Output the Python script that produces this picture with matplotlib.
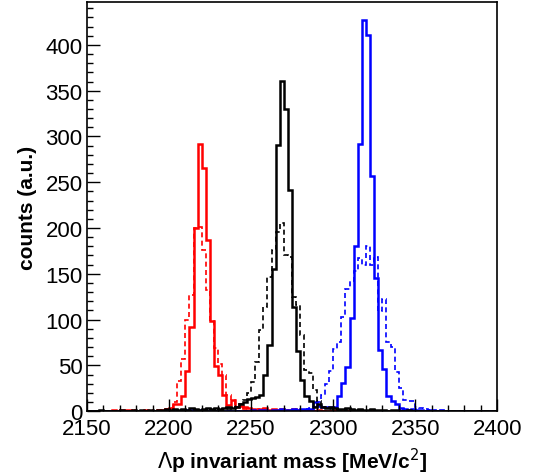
import numpy as np
import matplotlib
matplotlib.use("Agg")
import matplotlib.pyplot as plt
from matplotlib.ticker import MultipleLocator

plt.rcParams['font.family'] = ['Liberation Sans', 'DejaVu Sans']

# bin edges: 2150 -> 2400 MeV, 2.5 MeV bins
edges = np.linspace(2150, 2400, 101)

# red histograms
red_solid = [
    0, 0, 0, 0, 0, 0, 1, 0, 1, 1,
    1, 0, 0, 0, 1, 0, 0, 1, 1, 2,
    3, 8, 8, 17, 44, 92, 200, 292, 266, 187,
    98, 49, 40, 18, 7, 12, 4, 6, 5, 3,
    2, 1, 2, 3, 1, 2, 1, 2, 1, 1,
    2, 1, 1, 0, 1, 0, 1, 0, 0, 0,
    1, 0, 0, 0, 0, 0, 0, 0, 0, 0,
    0, 0, 0, 0, 0, 0, 0, 0, 0, 0,
    0, 0, 0, 0, 0, 0, 0, 0, 0, 0,
    0, 0, 0, 0, 0, 0, 0, 0, 0, 0,
]
red_dashed = [
    0, 0, 0, 0, 0, 0, 0, 1, 0, 0,
    0, 1, 0, 0, 0, 0, 1, 1, 2, 2,
    3, 10, 33, 57, 100, 127, 200, 201, 176, 132,
    98, 69, 52, 40, 18, 12, 8, 4, 2, 2,
    1, 2, 1, 1, 0, 1, 0, 1, 0, 0,
    0, 1, 0, 0, 1, 0, 0, 0, 0, 0,
    0, 0, 0, 0, 0, 0, 0, 0, 0, 0,
    0, 0, 0, 0, 0, 0, 0, 0, 0, 0,
    0, 0, 0, 0, 0, 0, 0, 0, 0, 0,
    0, 0, 0, 0, 0, 0, 0, 0, 0, 0,
]

# black histograms
black_solid = [
    0, 0, 0, 1, 0, 0, 0, 0, 1, 0,
    0, 1, 0, 1, 0, 1, 0, 1, 1, 2,
    1, 2, 1, 2, 1, 3, 2, 1, 2, 3,
    2, 3, 2, 3, 4, 3, 5, 8, 10, 13,
    14, 15, 18, 40, 72, 155, 291, 361, 330, 242,
    114, 66, 34, 16, 11, 5, 8, 4, 3, 5,
    3, 2, 2, 3, 2, 1, 2, 1, 1, 2,
    1, 1, 1, 0, 1, 1, 0, 0, 1, 0,
    0, 0, 0, 0, 0, 0, 0, 0, 0, 0,
    0, 0, 0, 0, 0, 0, 0, 0, 0, 0,
]
black_dashed = [
    0, 0, 0, 0, 0, 0, 0, 0, 0, 0,
    0, 0, 0, 0, 0, 0, 0, 0, 0, 0,
    0, 0, 0, 0, 0, 0, 0, 0, 0, 0,
    0, 0, 1, 1, 2, 3, 5, 8, 12, 20,
    32, 54, 89, 114, 147, 176, 196, 205, 171, 168,
    125, 116, 83, 45, 42, 23, 11, 5, 3, 2,
    1, 1, 0, 1, 0, 0, 0, 0, 0, 0,
    0, 0, 0, 0, 0, 0, 0, 0, 0, 0,
    0, 0, 0, 0, 0, 0, 0, 0, 0, 0,
    0, 0, 0, 0, 0, 0, 0, 0, 0, 0,
]

# blue histograms
blue_solid = [
    0, 0, 0, 0, 0, 0, 0, 0, 0, 0,
    0, 0, 0, 0, 0, 0, 0, 0, 0, 0,
    0, 0, 0, 1, 0, 1, 0, 1, 0, 0,
    0, 0, 0, 0, 0, 0, 0, 0, 0, 0,
    1, 0, 1, 1, 0, 1, 1, 2, 1, 1,
    2, 1, 2, 2, 2, 10, 6, 4, 4, 5,
    5, 16, 31, 48, 102, 180, 292, 427, 411, 257,
    145, 67, 46, 17, 11, 8, 3, 2, 1, 2,
    1, 1, 0, 1, 0, 0, 0, 0, 0, 0,
    0, 0, 0, 0, 0, 0, 0, 0, 0, 0,
]
blue_dashed = [
    0, 0, 0, 0, 0, 0, 0, 0, 0, 0,
    0, 0, 0, 0, 0, 0, 0, 0, 0, 0,
    0, 0, 0, 0, 1, 0, 0, 0, 0, 0,
    0, 0, 0, 0, 0, 0, 0, 0, 0, 0,
    0, 0, 0, 0, 0, 0, 0, 0, 0, 1,
    1, 2, 1, 2, 3, 5, 10, 18, 30, 44,
    68, 76, 103, 133, 142, 153, 167, 160, 180, 160,
    168, 109, 123, 76, 70, 43, 25, 12, 11, 11,
    4, 3, 2, 1, 1, 0, 1, 0, 0, 0,
    0, 0, 0, 0, 0, 0, 0, 0, 0, 0,
]

fig = plt.figure(figsize=(5.33, 4.77), dpi=100)
ax = fig.add_axes([0.163, 0.136, 0.770, 0.858])

dash = (0, (3, 2))
ax.stairs(red_dashed, edges, color='red', lw=1.2, linestyle=dash)
ax.stairs(blue_dashed, edges, color='blue', lw=1.2, linestyle=dash)
ax.stairs(red_solid, edges, color='red', lw=1.8)
ax.stairs(blue_solid, edges, color='blue', lw=1.8)
ax.stairs(black_solid, edges, color='black', lw=1.8)
ax.stairs(black_dashed, edges, color='black', lw=1.2, linestyle=dash)

ax.set_xlim(2150, 2400)
ax.set_ylim(0, 447)

ax.xaxis.set_major_locator(MultipleLocator(50))
ax.xaxis.set_minor_locator(MultipleLocator(10))
ax.yaxis.set_major_locator(MultipleLocator(50))
ax.yaxis.set_minor_locator(MultipleLocator(10))
ax.tick_params(which='both', direction='in', top=False, right=False, labelsize=16)
ax.tick_params(which='major', length=9, width=1)
ax.tick_params(which='minor', length=4.5, width=1)
ax.tick_params(axis='x', pad=5)
ax.tick_params(axis='y', pad=3)

for s in ax.spines.values():
    s.set_linewidth(1.2)

ax.set_xlabel(r"$\Lambda$p invariant mass [MeV/c$^{2}$]", fontsize=15, fontweight='bold', labelpad=5)
ax.set_ylabel("counts (a.u.)", fontsize=15, fontweight='bold', labelpad=6)

fig.savefig("out.png", dpi=100)
